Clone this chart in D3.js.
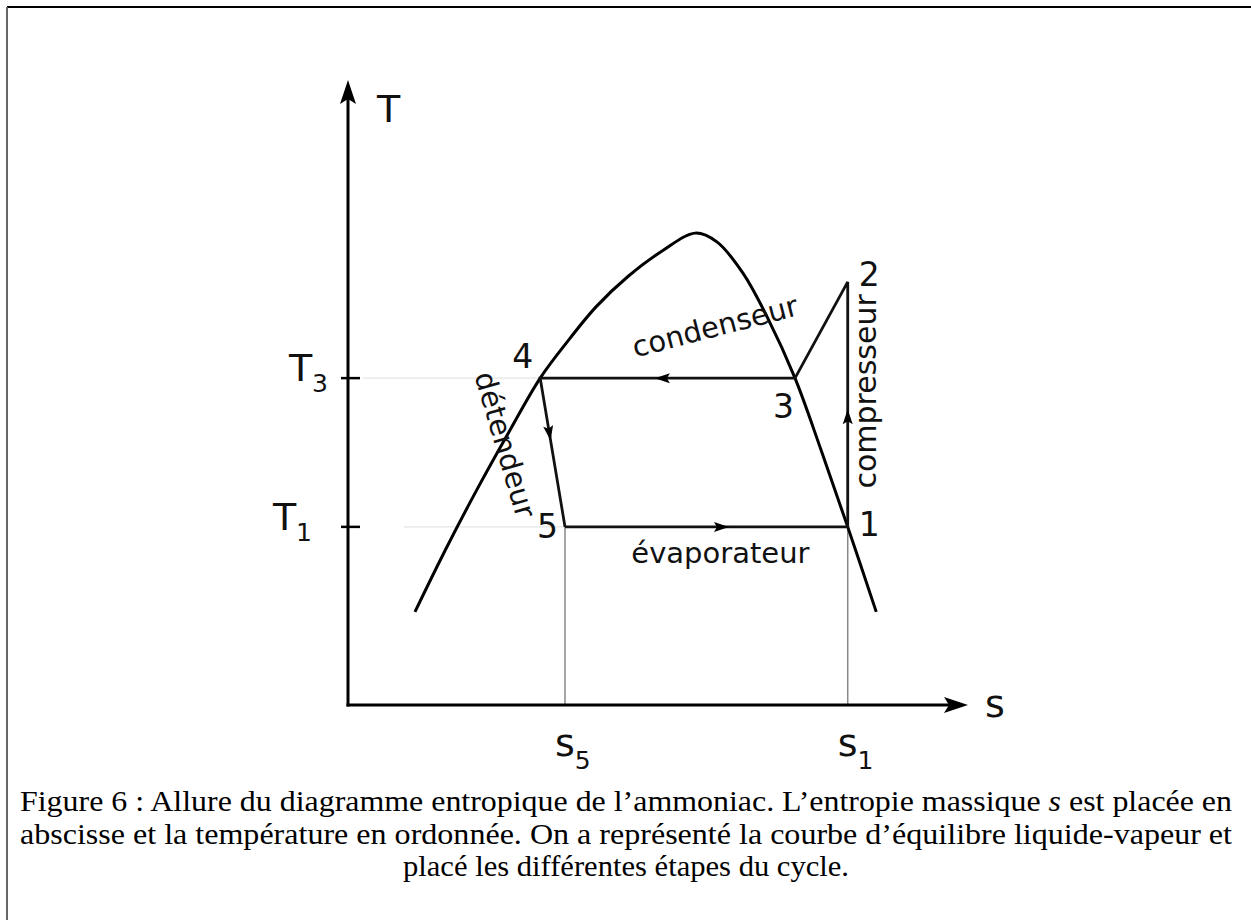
<!DOCTYPE html>
<html>
<head>
<meta charset="utf-8">
<script src="https://cdn.jsdelivr.net/npm/d3@7/dist/d3.min.js"></script>
<style>
body { margin: 0; background: #fff; }
svg text { font-family: "DejaVu Sans", sans-serif; fill: #111; }
svg text.caption { font-family: "Liberation Serif", serif; fill: #000; }
</style>
</head>
<body>
<div id="chart"></div>
<script>
// liquid-vapour equilibrium curve (s, T in arbitrary units)
var domeS = [10.8, 15.6, 20.6, 25.8, 31.0, 35.2, 40.0, 45.2, 50.6, 56.0, 59.5, 63.7, 67.6, 72.1, 76.3, 80.6, 85.2];
var domeT = [14.9, 24.6, 34.1, 43.4, 52.3, 57.9, 63.7, 68.6, 72.6, 75.5, 74.1, 69.1, 62.1, 52.3, 40.8, 28.5, 14.9];

// cycle points, in the order they are run through
var cycleNames = ["5", "1", "2", "3", "4"];
var cycleS = [35.0, 80.6, 80.6, 72.1, 31.0];
var cycleT = [28.5, 28.5, 67.7, 52.3, 52.3];

// name of the step that starts at each point (none for 2 -> 3)
var stepNames = ["évaporateur", "compresseur", "", "condenseur", "détendeur"];

// axis labels and marked values
var axisNames = ["s", "T"];
var tTickValues = [52.3, 28.5];
var tTickSubs = ["3", "1"];
var sTickValues = [35.0, 80.6];
var sTickSubs = ["5", "1"];

var captionLines = [
    "Figure 6 : Allure du diagramme entropique de l’ammoniac. L’entropie massique *s* est placée en",
    "abscisse et la température en ordonnée. On a représenté la courbe d’équilibre liquide-vapeur et",
    "placé les différentes étapes du cycle."
];

function drawDiagram() {
    var width = 1251, height = 920;

    var svg = d3.select("#chart")
        .append("svg")
        .attr("width", width)
        .attr("height", height);

    // frame, only top and left edges are visible
    svg.append("line")
        .attr("x1", 7).attr("y1", 7).attr("x2", width).attr("y2", 7)
        .attr("stroke", "#000").attr("stroke-width", 2);
    svg.append("line")
        .attr("x1", 7).attr("y1", 7).attr("x2", 7).attr("y2", height)
        .attr("stroke", "#666").attr("stroke-width", 2);

    var x = d3.scaleLinear().domain([0, 100]).range([348, 968]);
    var y = d3.scaleLinear().domain([0, 100]).range([705, 80]);

    // filled arrow head with its tip at (px, py)
    function arrowHead(px, py, angle, len, half, notch) {
        svg.append("path")
            .attr("d", "M0,0 L" + (-len) + "," + (-half) + " L" + (-len + notch) + ",0 L" + (-len) + "," + half + " Z")
            .attr("transform", "translate(" + px + "," + py + ") rotate(" + angle + ")")
            .attr("fill", "#000");
    }

    // faint guides from the T axis to points 4 and 5
    svg.append("line")
        .attr("x1", x(0) + 15).attr("x2", x(cycleS[4]))
        .attr("y1", y(tTickValues[0])).attr("y2", y(tTickValues[0]))
        .attr("stroke", "#e4e4e4").attr("stroke-width", 1.2);
    svg.append("line")
        .attr("x1", x(9)).attr("x2", x(cycleS[0]))
        .attr("y1", y(tTickValues[1])).attr("y2", y(tTickValues[1]))
        .attr("stroke", "#e4e4e4").attr("stroke-width", 1.2);

    // drop lines from 5 and 1 to the s axis
    sTickValues.forEach(function (s) {
        svg.append("line")
            .attr("x1", x(s)).attr("x2", x(s))
            .attr("y1", y(tTickValues[1])).attr("y2", y(0))
            .attr("stroke", "#888").attr("stroke-width", 1.5);
    });

    // axes
    svg.append("line")
        .attr("x1", x(0)).attr("y1", y(0) + 1.5)
        .attr("x2", x(0)).attr("y2", y(100) + 12)
        .attr("stroke", "#000").attr("stroke-width", 3);
    arrowHead(x(0), y(100), -90, 24, 8, 5);

    svg.append("line")
        .attr("x1", x(0) - 1.5).attr("y1", y(0))
        .attr("x2", x(100) - 12).attr("y2", y(0))
        .attr("stroke", "#000").attr("stroke-width", 3);
    arrowHead(x(100), y(0), 0, 24, 8, 5);

    svg.append("text")
        .attr("x", x(100) + 17).attr("y", y(0) + 12)
        .style("font-size", "38px")
        .text(axisNames[0]);
    svg.append("text")
        .attr("x", x(0) + 29).attr("y", y(100) + 42)
        .style("font-size", "38px")
        .text(axisNames[1]);

    // T ticks and labels
    var tLabelShift = [0, -16];
    tTickValues.forEach(function (t, i) {
        svg.append("line")
            .attr("x1", x(0) - 7).attr("x2", x(0) + 12)
            .attr("y1", y(t)).attr("y2", y(t))
            .attr("stroke", "#000").attr("stroke-width", 2.5);
        var lab = svg.append("text")
            .attr("x", x(0) - 20 + tLabelShift[i]).attr("y", y(t) + 3)
            .style("text-anchor", "end")
            .style("font-size", "38px");
        lab.append("tspan").text("T");
        lab.append("tspan").attr("dy", 11).style("font-size", "25px").text(tTickSubs[i]);
    });

    // s labels
    sTickValues.forEach(function (s, i) {
        var lab = svg.append("text")
            .attr("x", x(s) - 10).attr("y", y(0) + 51)
            .style("font-size", "38px");
        lab.append("tspan").text("s");
        lab.append("tspan").attr("dy", 13).style("font-size", "25px").text(sTickSubs[i]);
    });

    // equilibrium curve
    var domeLine = d3.line()
        .x(function (d) { return x(d[0]); })
        .y(function (d) { return y(d[1]); })
        .curve(d3.curveCatmullRom.alpha(0.5));

    svg.append("path")
        .attr("d", domeLine(d3.zip(domeS, domeT)))
        .attr("fill", "none")
        .attr("stroke", "#000")
        .attr("stroke-width", 3);

    // cycle
    var pts = d3.zip(cycleS, cycleT);
    var cycleLine = d3.line()
        .x(function (d) { return x(d[0]); })
        .y(function (d) { return y(d[1]); });

    svg.append("path")
        .attr("d", cycleLine(pts.concat([pts[0]])))
        .attr("fill", "none")
        .attr("stroke", "#111")
        .attr("stroke-width", 2.8)
        .attr("stroke-linejoin", "miter");

    // direction arrows on each step
    var arrowAt = [0.58, 0.48, null, 0.55, 0.42];
    pts.forEach(function (p, i) {
        if (arrowAt[i] === null) return;
        var q = pts[(i + 1) % pts.length];
        var x0 = x(p[0]), y0 = y(p[1]), x1 = x(q[0]), y1 = y(q[1]);
        var ang = Math.atan2(y1 - y0, x1 - x0) * 180 / Math.PI;
        arrowHead(x0 + (x1 - x0) * arrowAt[i], y0 + (y1 - y0) * arrowAt[i], ang, 15, 5, 3);
    });

    // point numbers
    var numOffset = [[-28, 11], [11, 9], [11, 4], [-22, 40], [-28, -10]];
    pts.forEach(function (p, i) {
        svg.append("text")
            .attr("x", x(p[0]) + numOffset[i][0])
            .attr("y", y(p[1]) + numOffset[i][1])
            .style("font-size", "33px")
            .text(cycleNames[i]);
    });

    // step names
    svg.append("text")
        .attr("transform", "translate(" + (x((cycleS[0] + cycleS[1]) / 2) + 14) + "," + (y(cycleT[0]) + 36) + ")")
        .style("text-anchor", "middle")
        .style("font-size", "29px")
        .text(stepNames[0]);

    svg.append("text")
        .attr("transform", "translate(" + (x(cycleS[1]) + 28) + "," + (y((cycleT[1] + cycleT[2]) / 2) - 13) + ") rotate(-90)")
        .style("text-anchor", "middle")
        .style("font-size", "30px")
        .text(stepNames[1]);

    svg.append("text")
        .attr("transform", "translate(" + (x((cycleS[3] + cycleS[4]) / 2) + 50) + "," + (y(cycleT[3]) - 42) + ") rotate(-14.5)")
        .style("text-anchor", "middle")
        .style("font-size", "29px")
        .text(stepNames[3]);

    svg.append("text")
        .attr("transform", "translate(" + (x((cycleS[4] + cycleS[0]) / 2) - 57) + "," + (y((cycleT[4] + cycleT[0]) / 2) - 5) + ") rotate(73.6)")
        .style("text-anchor", "middle")
        .style("font-size", "29px")
        .text(stepNames[4]);

    // caption, stretched to the widths of the original LaTeX lines
    var capX = [20, 20, 403];
    var capLen = [1212, 1212, 446];
    captionLines.forEach(function (line, i) {
        var t = svg.append("text")
            .attr("class", "caption")
            .attr("x", capX[i])
            .attr("y", 811 + i * 32.5)
            .attr("textLength", capLen[i])
            .attr("lengthAdjust", "spacingAndGlyphs")
            .style("font-size", "29px");
        line.split("*").forEach(function (part, k) {
            var sp = t.append("tspan").text(part);
            if (k % 2 === 1) sp.style("font-style", "italic");
        });
    });
}

drawDiagram();
</script>
</body>
</html>
